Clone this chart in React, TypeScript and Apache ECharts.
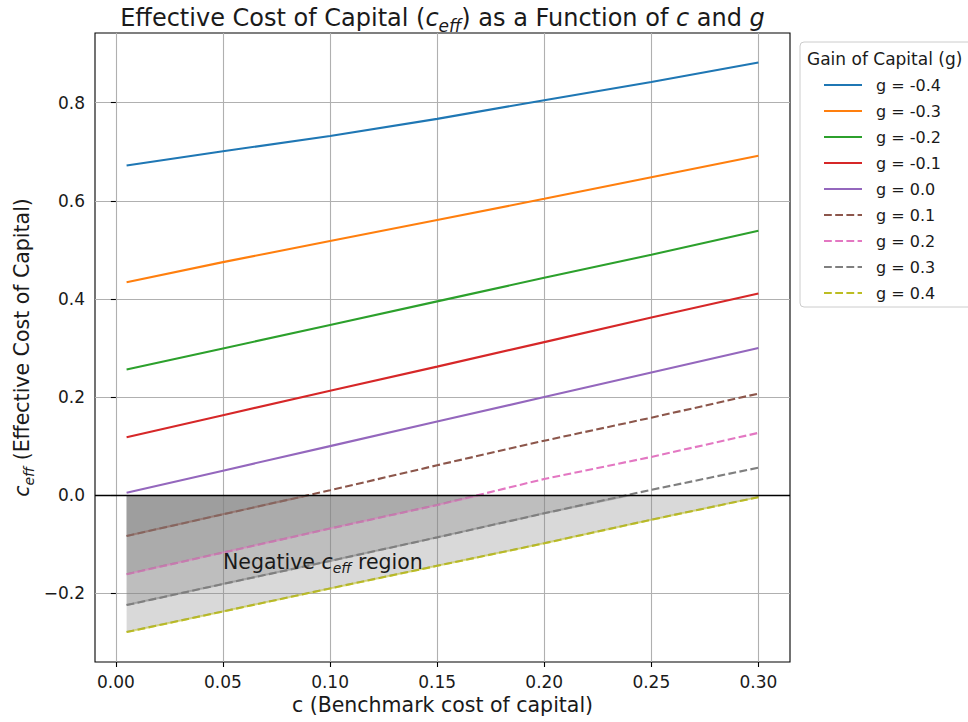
import React, { useEffect, useRef } from "react";
import * as echarts from "echarts";

// ---------- data ----------
const cValues = [0.005, 0.05, 0.1, 0.15, 0.2, 0.25, 0.3];

const gLabels = [
  "g = -0.4",
  "g = -0.3",
  "g = -0.2",
  "g = -0.1",
  "g = 0.0",
  "g = 0.1",
  "g = 0.2",
  "g = 0.3",
  "g = 0.4",
];

const ceffGm04 = [0.672, 0.701, 0.732, 0.767, 0.805, 0.842, 0.882];
const ceffGm03 = [0.434, 0.475, 0.518, 0.561, 0.604, 0.648, 0.692];
const ceffGm02 = [0.256, 0.299, 0.347, 0.395, 0.443, 0.49, 0.539];
const ceffGm01 = [0.118, 0.163, 0.213, 0.262, 0.312, 0.362, 0.411];
const ceffG00 = [0.005, 0.05, 0.1, 0.15, 0.2, 0.25, 0.3];
const ceffG01 = [-0.083, -0.039, 0.01, 0.061, 0.111, 0.158, 0.207];
const ceffG02 = [-0.161, -0.117, -0.068, -0.02, 0.033, 0.078, 0.127];
const ceffG03 = [-0.224, -0.181, -0.134, -0.086, -0.037, 0.011, 0.056];
const ceffG04 = [-0.279, -0.237, -0.19, -0.144, -0.098, -0.05, -0.004];

const allCeff = [
  ceffGm04,
  ceffGm03,
  ceffGm02,
  ceffGm01,
  ceffG00,
  ceffG01,
  ceffG02,
  ceffG03,
  ceffG04,
];

// c where the positive-g lines cross zero; null = never crosses
const zeroCrossings: (number | null)[] = [0.09, 0.17, 0.24, null];

// tick values
const xTicks = [0, 0.05, 0.1, 0.15, 0.2, 0.25, 0.3];
const yTicks = [-0.2, 0, 0.2, 0.4, 0.6, 0.8];

// annotation position (data coords)
const annotationAt = [0.05, -0.15];

// ---------- styling ----------
const FONT = "DejaVu Sans";
const COLORS = [
  "#1f77b4",
  "#ff7f0e",
  "#2ca02c",
  "#d62728",
  "#9467bd",
  "#8c564b",
  "#e377c2",
  "#7f7f7f",
  "#bcbd22",
];
const DASH = [7.8, 3.4];
const TEXT = "#1a1a1a";

const X_MIN = -0.00975;
const X_MAX = 0.31475;
const Y_MIN = -0.34;
const Y_MAX = 0.942;

function mathRich(size: number) {
  const lh = Math.round(size * 1.2);
  const s2 = Math.round(size * 0.7);
  const pad = Math.round(size * 0.62);
  return {
    n: { fontFamily: FONT, fontSize: size, fill: TEXT, lineHeight: lh },
    i: {
      fontFamily: FONT,
      fontSize: size,
      fontStyle: "italic",
      fill: TEXT,
      lineHeight: lh,
    },
    s: {
      fontFamily: FONT,
      fontSize: s2,
      fontStyle: "italic",
      fill: TEXT,
      lineHeight: lh - pad,
      padding: [pad, 0, 0, 0],
    },
  };
}

function isMultiple(v: number, step: number) {
  const r = v / step;
  return Math.abs(r - Math.round(r)) < 1e-6;
}

export default function App() {
  const ref = useRef<HTMLDivElement>(null);

  useEffect(() => {
    if (!ref.current) return;
    const chart = echarts.init(ref.current, undefined, { renderer: "svg" });

    const lineSeries: any[] = allCeff.map((vals, k) => ({
      name: gLabels[k],
      type: "line",
      data: cValues.map((c, i) => [c, vals[i]]),
      symbol: "none",
      z: 3,
      silent: true,
      lineStyle: {
        color: COLORS[k],
        width: 2.1,
        type: k >= 5 ? DASH : "solid",
      },
      itemStyle: { color: COLORS[k] },
    }));

    const fillSeries: any[] = zeroCrossings.map((cross, j) => {
      const k = 5 + j;
      const vals = allCeff[k];
      const pts: number[][] = [];
      cValues.forEach((c, i) => {
        if (cross === null || c < cross) pts.push([c, vals[i]]);
      });
      if (cross !== null) pts.push([cross, 0]);
      return {
        name: "fill" + k,
        type: "line",
        data: pts,
        symbol: "none",
        z: 4,
        silent: true,
        lineStyle: { color: COLORS[k], width: 2, opacity: 0.5 },
        areaStyle: { color: "#808080", opacity: 0.3, origin: 0 },
      };
    });

    const zeroLine = {
      name: "zero",
      type: "line",
      data: [],
      silent: true,
      markLine: {
        silent: true,
        symbol: ["none", "none"],
        label: { show: false },
        lineStyle: { color: "#000", width: 1.4, type: "solid" },
        data: [{ yAxis: 0 }],
        z: 6,
      },
    };

    const option: any = {
      animation: false,
      backgroundColor: "#ffffff",
      grid: {
        left: 95,
        right: 178,
        top: 33,
        bottom: 60,
        show: true,
        borderColor: "#000",
        borderWidth: 1.1,
        backgroundColor: "transparent",
      },
      legend: {
        data: gLabels,
        orient: "vertical",
        left: 823,
        top: 77,
        padding: 0,
        itemWidth: 38,
        itemHeight: 14,
        itemGap: 10,
        selectedMode: false,
        z: 10,
        itemStyle: {
          color: "transparent",
          borderColor: "transparent",
          borderWidth: 0,
          opacity: 0,
        },
        textStyle: {
          fontFamily: FONT,
          fontSize: 16,
          lineHeight: 14,
          color: TEXT,
          padding: [0, 0, 0, 9],
        },
      },
      xAxis: {
        type: "value",
        min: X_MIN,
        max: X_MAX,
        splitNumber: 6,
        minInterval: 0.05,
        maxInterval: 0.05,
        axisLine: { show: false, onZero: false },
        axisTick: {
          show: true,
          length: 5,
          customValues: xTicks,
          lineStyle: { color: "#000", width: 1.1 },
        },
        axisLabel: {
          fontFamily: FONT,
          fontSize: 17,
          color: TEXT,
          margin: 11,
          customValues: xTicks,
          formatter: (v: number) => (isMultiple(v, 0.05) ? v.toFixed(2) : ""),
        },
        splitLine: { show: true, lineStyle: { color: "#b0b0b0", width: 1.1 } },
      },
      yAxis: {
        type: "value",
        min: Y_MIN,
        max: Y_MAX,
        splitNumber: 6,
        minInterval: 0.2,
        maxInterval: 0.2,
        axisLine: { show: false },
        axisTick: {
          show: true,
          length: 5,
          customValues: yTicks,
          lineStyle: { color: "#000", width: 1.1 },
        },
        axisLabel: {
          fontFamily: FONT,
          fontSize: 17,
          color: TEXT,
          margin: 10,
          customValues: yTicks,
          formatter: (v: number) => {
            if (!isMultiple(v, 0.2)) return "";
            const s = Math.abs(v).toFixed(1);
            return v < -1e-9 ? "\u2212" + s : s;
          },
        },
        splitLine: { show: true, lineStyle: { color: "#b0b0b0", width: 1.1 } },
      },
      series: [...lineSeries, ...fillSeries, zeroLine],
    };

    chart.setOption(option);

    const [ax, ay] = chart.convertToPixel({ gridIndex: 0 }, annotationAt) as number[];

    chart.setOption({
      graphic: {
        elements: [
          {
            type: "rect",
            z: 5,
            shape: { x: 800, y: 42, width: 200, height: 265, r: 4 },
            style: { fill: "rgba(255,255,255,0.85)", stroke: "#cccccc", lineWidth: 1 },
          },
          {
            type: "text",
            z: 6,
            x: 807,
            y: 59,
            style: {
              text: "Gain of Capital (g)",
              fontFamily: FONT,
              fontSize: 17,
              fill: TEXT,
              align: "left",
              verticalAlign: "middle",
            },
          },
          {
            type: "text",
            z: 6,
            x: 442.5,
            y: 18,
            style: {
              text: "{n|Effective Cost of Capital (}{i|c}{s|eff}{n|) as a Function of }{i|c}{n| and }{i|g}",
              rich: mathRich(24),
              align: "center",
              verticalAlign: "middle",
            },
          },
          {
            type: "text",
            z: 6,
            x: 442.5,
            y: 705,
            style: {
              text: "c (Benchmark cost of capital)",
              fontFamily: FONT,
              fontSize: 20.5,
              fill: TEXT,
              align: "center",
              verticalAlign: "middle",
            },
          },
          {
            type: "text",
            z: 6,
            x: 22,
            y: 347.5,
            rotation: Math.PI / 2,
            style: {
              text: "{i|c}{s|eff}{n| (Effective Cost of Capital)}",
              rich: mathRich(20.5),
              align: "center",
              verticalAlign: "middle",
            },
          },
          {
            type: "text",
            z: 7,
            x: ax,
            y: ay - 7,
            style: {
              text: "{n|Negative }{i|c}{s|eff}{n| region}",
              rich: mathRich(20.5),
              align: "left",
              verticalAlign: "middle",
            },
          },
        ],
      },
    });

    return () => chart.dispose();
  }, []);

  return (
    <div
      ref={ref}
      style={{ position: "absolute", left: 0, top: 0, width: 968, height: 722 }}
    />
  );
}
